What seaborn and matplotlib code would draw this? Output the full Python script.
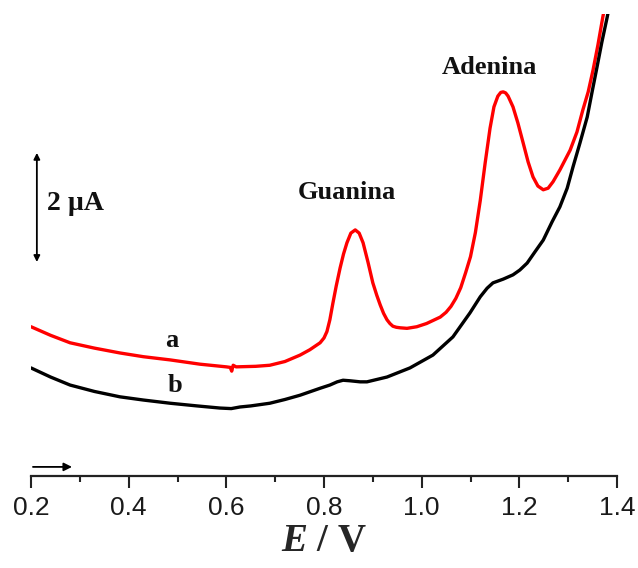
import numpy as np
import pandas as pd
import matplotlib
matplotlib.use("Agg")
import matplotlib.pyplot as plt
import seaborn as sns

# ---- data (E in V, current in µA, arbitrary baseline) ----
E_a = [0.200, 0.240, 0.280, 0.330, 0.382, 0.430, 0.485, 0.546, 0.600, 0.608,
       0.611, 0.614, 0.620, 0.660, 0.689, 0.720, 0.751, 0.771, 0.792, 0.800,
       0.806, 0.812, 0.818, 0.825, 0.833, 0.840, 0.847, 0.855, 0.864, 0.872,
       0.880, 0.890, 0.900, 0.908, 0.915, 0.922, 0.929, 0.935, 0.941, 0.948,
       0.956, 0.970, 0.990, 1.010, 1.038, 1.050, 1.060, 1.070, 1.080, 1.090,
       1.100, 1.110, 1.120, 1.130, 1.140, 1.148, 1.156, 1.162, 1.167, 1.172,
       1.177, 1.187, 1.197, 1.208, 1.218, 1.228, 1.238, 1.249, 1.259, 1.269,
       1.283, 1.304, 1.318, 1.330, 1.341, 1.351, 1.361, 1.371, 1.380]
I_a = [2.79, 2.63, 2.49, 2.39, 2.30, 2.23, 2.17, 2.09, 2.04, 2.03,
       1.96, 2.07, 2.04, 2.05, 2.07, 2.14, 2.26, 2.36, 2.49, 2.58,
       2.70, 2.92, 3.22, 3.55, 3.89, 4.15, 4.36, 4.54, 4.60, 4.54,
       4.36, 4.00, 3.61, 3.38, 3.20, 3.04, 2.92, 2.85, 2.80, 2.78,
       2.77, 2.76, 2.79, 2.85, 2.97, 3.06, 3.17, 3.32, 3.52, 3.80,
       4.10, 4.55, 5.15, 5.85, 6.50, 6.90, 7.10, 7.17, 7.18, 7.16,
       7.10, 6.90, 6.60, 6.22, 5.87, 5.59, 5.42, 5.35, 5.38, 5.50,
       5.72, 6.09, 6.43, 6.84, 7.18, 7.59, 8.06, 8.58, 9.00]

E_b = [0.200, 0.240, 0.280, 0.330, 0.382, 0.430, 0.485, 0.540, 0.587, 0.610,
       0.628, 0.650, 0.689, 0.720, 0.751, 0.792, 0.812, 0.827, 0.839, 0.853,
       0.874, 0.888, 0.929, 0.976, 1.023, 1.064, 1.099, 1.120, 1.134, 1.146,
       1.167, 1.187, 1.201, 1.216, 1.232, 1.249, 1.267, 1.283, 1.298, 1.310,
       1.324, 1.339, 1.349, 1.359, 1.369, 1.380, 1.388]
I_b = [2.02, 1.85, 1.70, 1.58, 1.48, 1.42, 1.36, 1.31, 1.27, 1.26,
       1.29, 1.31, 1.36, 1.43, 1.51, 1.64, 1.70, 1.76, 1.79, 1.78,
       1.76, 1.76, 1.85, 2.02, 2.26, 2.60, 3.05, 3.35, 3.51, 3.61,
       3.68, 3.76, 3.85, 3.98, 4.19, 4.41, 4.75, 5.03, 5.38, 5.78,
       6.22, 6.71, 7.18, 7.64, 8.11, 8.58, 8.95]

xticks = [0.2, 0.4, 0.6, 0.8, 1.0, 1.2, 1.4]
xticklabels = ["0.2", "0.4", "0.6", "0.8", "1.0", "1.2", "1.4"]

sns.set_style("white")
plt.rcParams["font.family"] = ["Liberation Sans", "DejaVu Sans"]
plt.rcParams["mathtext.fontset"] = "custom"
plt.rcParams["mathtext.rm"] = "Liberation Serif:bold"
plt.rcParams["mathtext.bf"] = "Liberation Serif:bold"
plt.rcParams["mathtext.it"] = "Liberation Serif:italic:bold"
plt.rcParams["mathtext.bfit"] = "Liberation Serif:italic:bold"

fig = plt.figure(figsize=(6.38, 5.68), dpi=100)
ax = fig.add_axes([31 / 638, 92 / 568, 586 / 638, 462 / 568])

dfa = pd.DataFrame({"E": E_a, "I": I_a})
dfb = pd.DataFrame({"E": E_b, "I": I_b})
sns.lineplot(data=dfa, x="E", y="I", ax=ax, color="#ff0000", lw=2.4, sort=False,
             solid_joinstyle="round", solid_capstyle="round")
sns.lineplot(data=dfb, x="E", y="I", ax=ax, color="#000000", lw=2.4, sort=False,
             solid_joinstyle="round", solid_capstyle="round")

ax.set_xlim(0.2, 1.4)
ax.set_ylim(0, 462 / 53.5)
sns.despine(ax=ax, left=True, top=True, right=True)
ax.spines["bottom"].set_linewidth(1.6)
ax.spines["bottom"].set_color("#222222")
ax.set_yticks([])
ax.set_ylabel("")
ax.set_xticks(xticks)
ax.set_xticklabels(xticklabels, fontsize=19, color="#1a1a1a")
ax.set_xticks(np.arange(0.3, 1.4, 0.2), minor=True)
ax.tick_params(axis="x", which="major", direction="out", length=8.5, width=1.5,
               pad=6, bottom=True, color="#222222")
ax.tick_params(axis="x", which="minor", direction="out", length=4.5, width=1.5,
               bottom=True, color="#222222")
ax.set_xlabel(r"$\mathbfit{E}$ / V", fontsize=28, fontfamily="Liberation Serif",
              fontweight="bold", labelpad=2)

serif = dict(fontfamily="Liberation Serif", fontweight="bold", color="#111111")
ax.text(0.489, 2.54, "a", fontsize=19, ha="center", va="center", **serif)
ax.text(0.495, 1.70, "b", fontsize=19, ha="center", va="center", **serif)
ax.text(0.847, 5.29, "Guanina", fontsize=19, ha="center", va="center", **serif)
ax.text(1.138, 7.63, "Adenina", fontsize=19, ha="center", va="center", **serif)
ax.text(0.233, 5.10, "2 µA", fontsize=20, ha="left", va="center", **serif)

# scale bar (2 µA)
ax.annotate("", xy=(0.212, 6.04), xytext=(0.212, 4.0),
            arrowprops=dict(arrowstyle="<|-|>", lw=1.3, color="black",
                            mutation_scale=9, shrinkA=0, shrinkB=0),
            annotation_clip=False)
# scan direction arrow
ax.annotate("", xy=(0.284, 0.17), xytext=(0.204, 0.17),
            arrowprops=dict(arrowstyle="-|>", lw=1.3, color="black",
                            mutation_scale=12, shrinkA=0, shrinkB=0),
            annotation_clip=False)

fig.savefig("out.png", dpi=100)
